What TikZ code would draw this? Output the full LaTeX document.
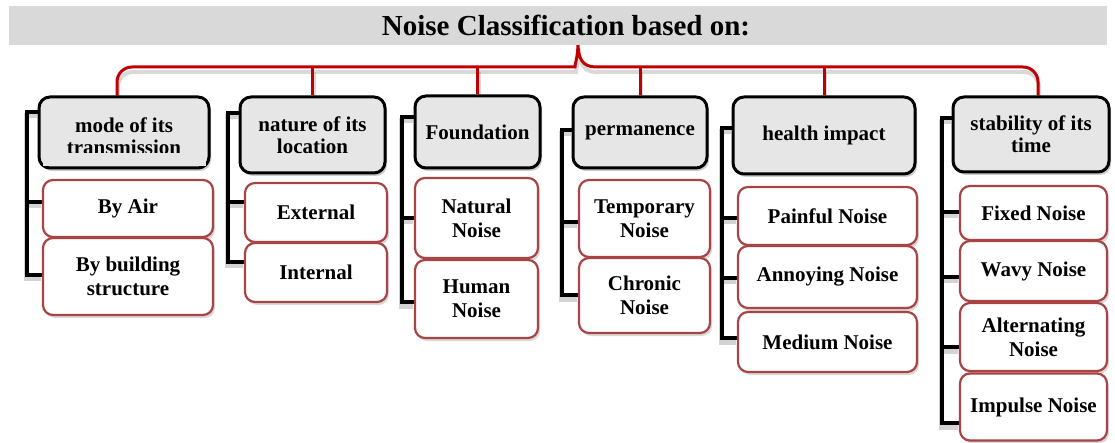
\documentclass[tikz,border=0pt]{standalone}
\usepackage{fontspec}
\setmainfont{Liberation Serif}
\usetikzlibrary{shadows,calc}
\pgfdeclarelayer{bg}
\pgfsetlayers{bg,main}
\definecolor{bracered}{RGB}{192,0,0}
\definecolor{childedge}{RGB}{168,68,68}
\definecolor{parentfill}{RGB}{230,230,230}
\definecolor{titlefill}{RGB}{217,217,217}
\tikzset{
  txt/.style={align=center, inner sep=2pt},
  sz/.style 2 args={minimum width=#1pt, minimum height=#2pt},
  parent/.style={txt, font=\fontsize{21}{22}\selectfont\bfseries, draw=black, line width=3pt, rounded corners=11pt, fill=parentfill,
    drop shadow={shadow xshift=2pt, shadow yshift=-3pt, opacity=0.4, fill=gray}},
  child/.style={txt, font=\fontsize{21}{24}\selectfont\bfseries, draw=childedge, line width=2.2pt, rounded corners=10pt, fill=white,
    drop shadow={shadow xshift=2pt, shadow yshift=-3pt, opacity=0.3, fill=gray}},
  blk/.style={line width=4.5pt, black},
  blkshadow/.style={line width=5pt, gray, opacity=0.35},
  brace/.style={line width=3pt, bracered},
  braceshadow/.style={line width=4pt, gray, opacity=0.3},
  titlebar/.style={fill=titlefill, draw=none, inner sep=0pt},
}
\newcommand\blkpaths[1]{%
  \draw[#1] (p1.west |- 0,112) -- (27,112) -- (27,275) -- (c12.west |- 0,275);
  \draw[#1] (27,202) -- (c11.west |- 0,202);
  \draw[#1] (p2.west |- 0,113) -- (228,113) -- (228,262) -- (c22.west |- 0,262);
  \draw[#1] (228,202) -- (c21.west |- 0,202);
  \draw[#1] (p3.west |- 0,117) -- (402,117) -- (402,302) -- (c32.west |- 0,302);
  \draw[#1] (402,218) -- (c31.west |- 0,218);
  \draw[#1] (p4.west |- 0,130) -- (562,130) -- (562,295) -- (c42.west |- 0,295);
  \draw[#1] (562,222) -- (c41.west |- 0,222);
  \draw[#1] (p5.west |- 0,128) -- (722,128) -- (722,338) -- (c53.west |- 0,338);
  \draw[#1] (722,218) -- (c51.west |- 0,218);
  \draw[#1] (722,278) -- (c52.west |- 0,278);
  \draw[#1] (p6.west |- 0,118) -- (942,118) -- (942,423) -- (c64.west |- 0,423);
  \draw[#1] (942,212) -- (c61.west |- 0,212);
  \draw[#1] (942,277) -- (c62.west |- 0,277);
  \draw[#1] (942,347) -- (c63.west |- 0,347);
}
\newcommand\bracepaths[1]{%
  \draw[#1] ($(p1.north)+(-7,0)$) [rounded corners=15pt] |- (560,67) [sharp corners]
     .. controls (574,67) and (578,58) .. (tip)
     .. controls (578,58) and (582,67) .. (596,67) [rounded corners=15pt] -| ($(p6.north)+(7,0)$);
  \draw[#1] (p2.north |- 0,67) -- (p2.north);
  \draw[#1] (p3.north |- 0,67) -- (p3.north);
  \draw[#1] (p4.north |- 0,67) -- (p4.north);
  \draw[#1] (p5.north |- 0,67) -- (p5.north);
}
\begin{document}
\begin{tikzpicture}[x=1pt,y=-1pt]
\useasboundingbox (0,0) rectangle (1115,443);
% title
\node[titlebar, minimum width=1098pt, minimum height=39pt] (title) at (558,25.5) {};
\node[font=\fontsize{29}{29}\selectfont\bfseries, inner sep=0pt] (titletext) at (566,25.5) {Noise Classification based on:};
\coordinate (tip) at (578,43);
% parents
\node[parent, sz={170}{71}] (p1) at (124,132.5) {\rule{0pt}{22pt}mode of its\\transmission};
\node[parent, sz={145}{76}] (p2) at (312.5,135) {nature of its\\location};
\node[parent, sz={125}{72}] (p3) at (477.5,132) {Foundation};
\node[parent, sz={134}{71}] (p4) at (640,132.5) {permanence};
\node[parent, sz={182}{77}] (p5) at (824,135.5) {health impact};
\node[parent, sz={156}{75}] (p6) at (1031,134.5) {stability of its\\time};
% cover lower part of clipped text
\fill[parentfill] ($(p1.south west)+(5,-3)$) rectangle ($(p1.south east)+(-5,-16)$);
% children
\node[child, sz={170}{57}] (c11) at (128,208.5) {By Air};
\node[child, sz={170}{77}] (c12) at (128,276.5) {By building\\structure};
\node[child, sz={142}{59}] (c21) at (316,212.5) {External};
\node[child, sz={142}{59}] (c22) at (316,272.5) {Internal};
\node[child, sz={123}{80}] (c31) at (476.5,218) {Natural\\Noise};
\node[child, sz={123}{78}] (c32) at (476.5,299) {Human\\Noise};
\node[child, sz={131}{77}] (c41) at (644.5,218.5) {Temporary\\Noise};
\node[child, sz={131}{75}] (c42) at (644.5,295.5) {Chronic\\Noise};
\node[child, sz={179}{58}] (c51) at (827.5,216) {Painful Noise};
\node[child, sz={179}{62}] (c52) at (827.5,277) {Annoying Noise};
\node[child, sz={179}{60}] (c53) at (827.5,342) {Medium Noise};
\node[child, sz={147}{54}] (c61) at (1033.5,213) {Fixed Noise};
\node[child, sz={147}{60}] (c62) at (1033.5,271) {Wavy Noise};
\node[child, sz={147}{68}] (c63) at (1033.5,337) {Alternating\\Noise};
\node[child, sz={147}{67}] (c64) at (1033.5,407) {Impulse Noise};
% connectors
\begin{pgfonlayer}{bg}
  \bracepaths{braceshadow, transform canvas={shift={(1pt,-5pt)}}}
  \blkpaths{blkshadow, transform canvas={shift={(-1pt,-4pt)}}}
  \bracepaths{brace}
  \blkpaths{blk}
\end{pgfonlayer}
\end{tikzpicture}
\end{document}
